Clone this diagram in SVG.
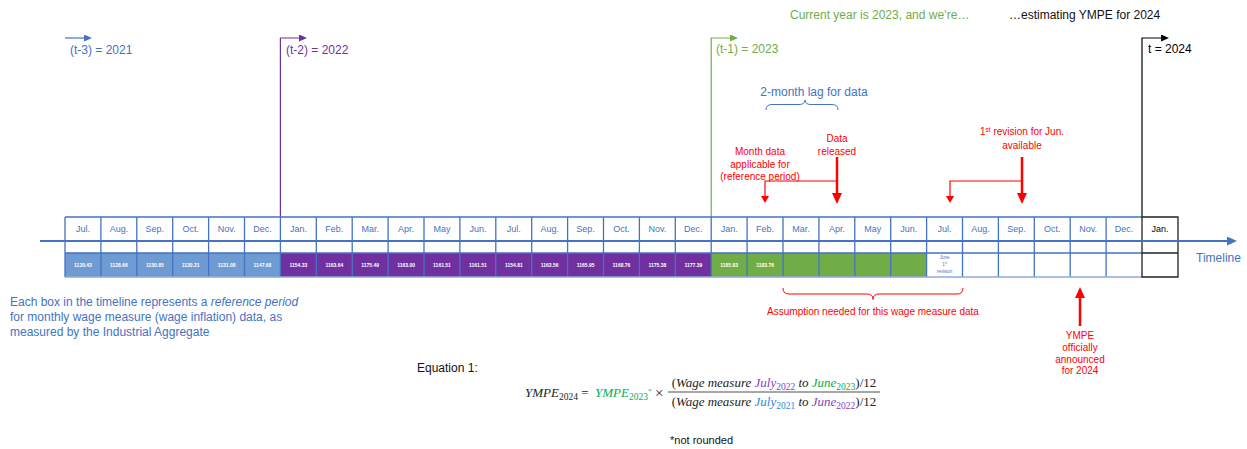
<svg xmlns="http://www.w3.org/2000/svg" width="1247" height="449" viewBox="0 0 1247 449">
<style>
text{font-family:"Liberation Sans",Arial,sans-serif}
.m{font-size:9px;fill:#4472C4;text-anchor:middle}
.v{font-size:5px;font-weight:bold;fill:#fff;text-anchor:middle}
.blu{fill:#4472C4}.pur{fill:#7030A0}.grn{fill:#70AD47}
.yr{font-size:12px}
.red{font-size:10px;fill:#FF0000;text-anchor:middle}
.fb{fill:#6E9BD1}.fp{fill:#7030A0}.fg{fill:#70AD47}
.grid{fill:none;stroke:#4472C4;stroke-width:1.3}
.eq{font-family:"Liberation Serif","Times New Roman",serif;font-size:13px;fill:#222}
.it{font-style:italic}
.sub{font-size:9.5px;font-style:normal}
</style>
<defs>
<marker id="aTl" markerUnits="userSpaceOnUse" markerWidth="10" markerHeight="9" refX="2" refY="4.5" orient="auto"><path d="M0,0 L10,4.5 L0,9 z" fill="#4472C4"/></marker>
<marker id="aB" markerUnits="userSpaceOnUse" markerWidth="8" markerHeight="7" refX="2" refY="3.5" orient="auto"><path d="M0,0 L8,3.5 L0,7 z" fill="#4472C4"/></marker>
<marker id="aP" markerUnits="userSpaceOnUse" markerWidth="8" markerHeight="7" refX="2" refY="3.5" orient="auto"><path d="M0,0 L8,3.5 L0,7 z" fill="#7030A0"/></marker>
<marker id="aG" markerUnits="userSpaceOnUse" markerWidth="8" markerHeight="7" refX="2" refY="3.5" orient="auto"><path d="M0,0 L8,3.5 L0,7 z" fill="#70AD47"/></marker>
<marker id="aK" markerUnits="userSpaceOnUse" markerWidth="8" markerHeight="7" refX="2" refY="3.5" orient="auto"><path d="M0,0 L8,3.5 L0,7 z" fill="#000"/></marker>
<marker id="aRT" markerUnits="userSpaceOnUse" markerWidth="11" markerHeight="10" refX="3" refY="5" orient="auto"><path d="M0,0 L11,5 L0,10 z" fill="#FF0000"/></marker>
<marker id="aRt" markerUnits="userSpaceOnUse" markerWidth="7" markerHeight="8" refX="1" refY="4" orient="auto"><path d="M0,0 L7,4 L0,8 z" fill="#FF0000"/></marker>
</defs>

<g id="headline">
<text x="790" y="19" class="grn" font-size="12">Current year is 2023, and we’re…</text>
<text x="1009" y="19" fill="#111" font-size="12">…estimating YMPE for 2024</text>
</g>

<g id="year-t3"><path d="M65,38 H86" stroke="#4472C4" stroke-width="1.2" fill="none" marker-end="url(#aB)"/><text x="70" y="54" class="yr blu">(t-3) = 2021</text></g>
<g id="year-t2"><path d="M280.4,217 V38 H301" stroke="#7030A0" stroke-width="1.2" fill="none" marker-end="url(#aP)"/><text x="286" y="54" class="yr pur">(t-2) = 2022</text></g>
<g id="year-t1"><path d="M711.2,217 V38 H732" stroke="#70AD47" stroke-width="1.2" fill="none" marker-end="url(#aG)"/><text x="716" y="53" class="yr grn">(t-1) = 2023</text></g>
<g id="year-t"><path d="M1142,217 V38 H1163" stroke="#000" stroke-width="1.2" fill="none" marker-end="url(#aK)"/><text x="1148" y="53" class="yr" fill="#000">t = 2024</text></g>

<g id="cells">
<g id="c00"><rect class="fb" x="65" y="253" width="35.9" height="24"/><text class="m" x="83" y="232">Jul.</text><text class="v" x="83" y="267">1120.43</text></g>
<g id="c01"><rect class="fb" x="100.9" y="253" width="35.9" height="24"/><text class="m" x="118.9" y="232">Aug.</text><text class="v" x="118.9" y="267">1128.66</text></g>
<g id="c02"><rect class="fb" x="136.8" y="253" width="35.9" height="24"/><text class="m" x="154.8" y="232">Sep.</text><text class="v" x="154.8" y="267">1130.85</text></g>
<g id="c03"><rect class="fb" x="172.7" y="253" width="35.9" height="24"/><text class="m" x="190.7" y="232">Oct.</text><text class="v" x="190.7" y="267">1130.21</text></g>
<g id="c04"><rect class="fb" x="208.6" y="253" width="35.9" height="24"/><text class="m" x="226.6" y="232">Nov.</text><text class="v" x="226.6" y="267">1131.08</text></g>
<g id="c05"><rect class="fb" x="244.5" y="253" width="35.9" height="24"/><text class="m" x="262.5" y="232">Dec.</text><text class="v" x="262.5" y="267">1147.68</text></g>
<g id="c06"><rect class="fp" x="280.4" y="253" width="35.9" height="24"/><text class="m" x="298.4" y="232">Jan.</text><text class="v" x="298.4" y="267">1154.33</text></g>
<g id="c07"><rect class="fp" x="316.3" y="253" width="35.9" height="24"/><text class="m" x="334.3" y="232">Feb.</text><text class="v" x="334.3" y="267">1163.64</text></g>
<g id="c08"><rect class="fp" x="352.2" y="253" width="35.9" height="24"/><text class="m" x="370.2" y="232">Mar.</text><text class="v" x="370.2" y="267">1175.49</text></g>
<g id="c09"><rect class="fp" x="388.1" y="253" width="35.9" height="24"/><text class="m" x="406.1" y="232">Apr.</text><text class="v" x="406.1" y="267">1163.00</text></g>
<g id="c10"><rect class="fp" x="424" y="253" width="35.9" height="24"/><text class="m" x="442" y="232">May</text><text class="v" x="442" y="267">1161.51</text></g>
<g id="c11"><rect class="fp" x="459.9" y="253" width="35.9" height="24"/><text class="m" x="477.9" y="232">Jun.</text><text class="v" x="477.9" y="267">1161.51</text></g>
<g id="c12"><rect class="fp" x="495.8" y="253" width="35.9" height="24"/><text class="m" x="513.8" y="232">Jul.</text><text class="v" x="513.8" y="267">1154.81</text></g>
<g id="c13"><rect class="fp" x="531.7" y="253" width="35.9" height="24"/><text class="m" x="549.7" y="232">Aug.</text><text class="v" x="549.7" y="267">1163.56</text></g>
<g id="c14"><rect class="fp" x="567.6" y="253" width="35.9" height="24"/><text class="m" x="585.6" y="232">Sep.</text><text class="v" x="585.6" y="267">1165.95</text></g>
<g id="c15"><rect class="fp" x="603.5" y="253" width="35.9" height="24"/><text class="m" x="621.5" y="232">Oct.</text><text class="v" x="621.5" y="267">1168.76</text></g>
<g id="c16"><rect class="fp" x="639.4" y="253" width="35.9" height="24"/><text class="m" x="657.4" y="232">Nov.</text><text class="v" x="657.4" y="267">1175.38</text></g>
<g id="c17"><rect class="fp" x="675.3" y="253" width="35.9" height="24"/><text class="m" x="693.3" y="232">Dec.</text><text class="v" x="693.3" y="267">1177.39</text></g>
<g id="c18"><rect class="fg" x="711.2" y="253" width="35.9" height="24"/><text class="m" x="729.2" y="232">Jan.</text><text class="v" x="729.2" y="267">1185.83</text></g>
<g id="c19"><rect class="fg" x="747.1" y="253" width="35.9" height="24"/><text class="m" x="765.1" y="232">Feb.</text><text class="v" x="765.1" y="267">1183.76</text></g>
<g id="c20"><rect class="fg" x="783" y="253" width="35.9" height="24"/><text class="m" x="801" y="232">Mar.</text></g>
<g id="c21"><rect class="fg" x="818.9" y="253" width="35.9" height="24"/><text class="m" x="836.9" y="232">Apr.</text></g>
<g id="c22"><rect class="fg" x="854.8" y="253" width="35.9" height="24"/><text class="m" x="872.8" y="232">May</text></g>
<g id="c23"><rect class="fg" x="890.7" y="253" width="35.9" height="24"/><text class="m" x="908.7" y="232">Jun.</text></g>
<g id="c24"><text class="m" x="944.6" y="232">Jul.</text><text x="944.6" y="259" font-size="4.5" fill="#4472C4" text-anchor="middle">June</text><text x="944.6" y="265.5" font-size="4.5" fill="#4472C4" text-anchor="middle">1<tspan font-size="3" dy="-1.5">st</tspan></text><text x="944.6" y="273" font-size="4.5" fill="#4472C4" text-anchor="middle">revision</text></g>
<g id="c25"><text class="m" x="980.5" y="232">Aug.</text></g>
<g id="c26"><text class="m" x="1016.4" y="232">Sep.</text></g>
<g id="c27"><text class="m" x="1052.3" y="232">Oct.</text></g>
<g id="c28"><text class="m" x="1088.2" y="232">Nov.</text></g>
<g id="c29"><text class="m" x="1124.1" y="232">Dec.</text></g>
<g id="c30"><text class="m" x="1160" y="232" style="fill:#000">Jan.</text></g>
</g>

<g id="grid">
<path class="grid" d="M65,217 H1142 M65,253 H1142 M65,217 V277 M100.9,217 V277 M136.8,217 V277 M172.7,217 V277 M208.6,217 V277 M244.5,217 V277 M280.4,217 V277 M316.3,217 V277 M352.2,217 V277 M388.1,217 V277 M424,217 V277 M459.9,217 V277 M495.8,217 V277 M531.7,217 V277 M567.6,217 V277 M603.5,217 V277 M639.4,217 V277 M675.3,217 V277 M711.2,217 V277 M747.1,217 V277 M783,217 V277 M818.9,217 V277 M854.8,217 V277 M890.7,217 V277 M926.6,217 V277 M962.5,217 V277 M998.4,217 V277 M1034.3,217 V277 M1070.2,217 V277 M1106.1,217 V277"/>
<path d="M65,277 H1142" stroke="#8FAADC" stroke-width="1.5" fill="none"/>
<path d="M1142,217 H1178 V277 H1142 Z M1142,253 H1178" fill="none" stroke="#222" stroke-width="1.3"/>
</g>

<g id="connectors">
<path d="M40,241 H1229" stroke="#4472C4" stroke-width="2" fill="none" marker-end="url(#aTl)"/>
<path d="M837,157 V196" stroke="#FF0000" stroke-width="2.5" fill="none" marker-end="url(#aRT)"/>
<path d="M837,181 H765 V197" stroke="#FF0000" stroke-width="1.2" fill="none" marker-end="url(#aRt)"/>
<path d="M1022,157 V196" stroke="#FF0000" stroke-width="2.5" fill="none" marker-end="url(#aRT)"/>
<path d="M1022,181 H950 V197" stroke="#FF0000" stroke-width="1.2" fill="none" marker-end="url(#aRt)"/>
<path d="M1080,326 V295" stroke="#FF0000" stroke-width="2.5" fill="none" marker-end="url(#aRT)"/>
<path d="M766,110 Q766,104.5 772,104.5 L799,104.5 Q805,104.5 805,100 Q805,104.5 811,104.5 L832,104.5 Q838,104.5 838,110" stroke="#4472C4" stroke-width="1" fill="none"/>
<path d="M783,288 Q783,294 789,294 L867,294 Q873,294 873,299.5 Q873,294 879,294 L957,294 Q963,294 963,288" stroke="#FF0000" stroke-width="1" fill="none"/>
</g>

<g id="timeline-label"><text x="1196" y="262" class="blu" font-size="12">Timeline</text></g>

<g id="lag-label"><text x="814" y="96" class="blu" font-size="12" text-anchor="middle">2-month lag for data</text></g>
<g id="month-data-label"><text class="red" x="760" y="155">Month data</text><text class="red" x="760" y="168">applicable for</text><text class="red" x="760" y="180">(reference period)</text></g>
<g id="released-label"><text class="red" x="837" y="142">Data</text><text class="red" x="837" y="155">released</text></g>
<g id="revision-label"><text class="red" x="1022" y="135">1<tspan font-size="6.5" dy="-3.5">st</tspan><tspan dy="3.5"> revision for Jun.</tspan></text><text class="red" x="1022" y="149">available</text></g>
<g id="assumption-label"><text class="red" x="873" y="315" font-size="9.7">Assumption needed for this wage measure data</text></g>
<g id="ympe-label"><text class="red" x="1080" y="339">YMPE</text><text class="red" x="1080" y="351">officially</text><text class="red" x="1080" y="362.5">announced</text><text class="red" x="1080" y="374">for 2024</text></g>

<g id="note"><text x="10" y="306" class="blu" font-size="12">Each box in the timeline represents a <tspan font-style="italic">reference period</tspan></text><text x="10" y="321" class="blu" font-size="12">for monthly wage measure (wage inflation) data, as</text><text x="10" y="336" class="blu" font-size="12">measured by the Industrial Aggregate</text></g>

<g id="equation">
<text x="417" y="372" font-size="12" fill="#111">Equation 1:</text>
<text class="eq" x="525" y="397"><tspan class="it">YMPE</tspan><tspan class="sub" dy="3">2024</tspan><tspan dy="-3"> = </tspan></text>
<text class="eq" x="595" y="397" style="fill:#00B050"><tspan class="it">YMPE</tspan><tspan class="sub" dy="3">2023</tspan><tspan font-size="7" dy="-7">*</tspan></text>
<text class="eq" x="655" y="398" font-size="15" style="font-size:15px">×</text>
<text class="eq" x="774" y="387" text-anchor="middle">(<tspan class="it">Wage measure </tspan><tspan class="it" style="fill:#7F3FBF">July</tspan><tspan class="sub" style="fill:#7F3FBF" dy="3">2022</tspan><tspan class="it" dy="-3"> to </tspan><tspan class="it" style="fill:#00B050">June</tspan><tspan class="sub" style="fill:#00B050" dy="3">2023</tspan><tspan dy="-3">)/12</tspan></text>
<path d="M668,392 H880" stroke="#222" stroke-width="0.8"/>
<text class="eq" x="774" y="406" text-anchor="middle">(<tspan class="it">Wage measure </tspan><tspan class="it" style="fill:#2E86DE">July</tspan><tspan class="sub" style="fill:#2E86DE" dy="3">2021</tspan><tspan class="it" dy="-3"> to </tspan><tspan class="it" style="fill:#7F3FBF">June</tspan><tspan class="sub" style="fill:#7F3FBF" dy="3">2022</tspan><tspan dy="-3">)/12</tspan></text>
<text x="670" y="444" font-size="11" fill="#111">*not rounded</text>
</g>
</svg>
